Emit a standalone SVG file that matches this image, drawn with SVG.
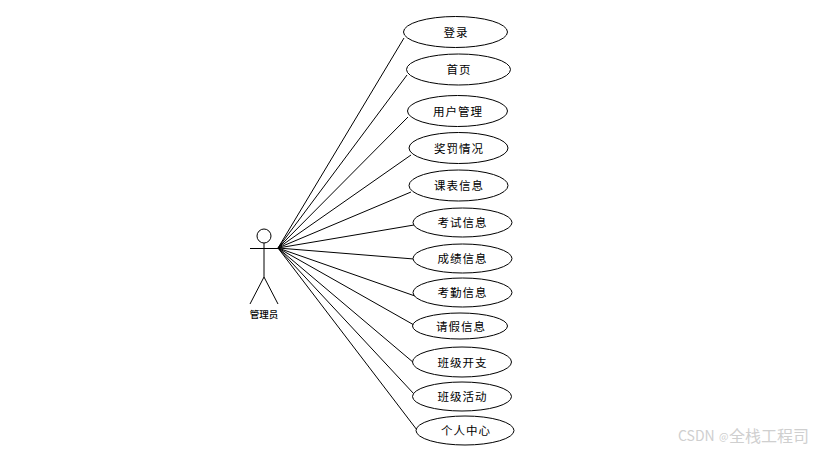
<svg xmlns="http://www.w3.org/2000/svg" width="822" height="452" viewBox="0 0 822 452">
<style>
.u{fill:#fff;stroke:#000;stroke-width:1}
.l{font:11.500px "Noto Sans CJK SC","Noto Sans",sans-serif;letter-spacing:1px;text-anchor:middle;fill:#000}
.c line{stroke:#000;stroke-width:1}
.a{fill:none;stroke:#000;stroke-width:1}
</style>
<rect width="822" height="452" fill="#fff"/>
<g id="connectors" class="c">
<line x1="278" y1="248" x2="404" y2="38"/>
<line x1="278" y1="248" x2="407" y2="75"/>
<line x1="278" y1="248" x2="408" y2="117"/>
<line x1="278" y1="248" x2="411" y2="155"/>
<line x1="278" y1="248" x2="411" y2="192"/>
<line x1="278" y1="248" x2="414" y2="225"/>
<line x1="278" y1="248" x2="414" y2="259"/>
<line x1="278" y1="248" x2="415" y2="296"/>
<line x1="278" y1="248" x2="414" y2="325"/>
<line x1="278" y1="248" x2="414" y2="363"/>
<line x1="278" y1="248" x2="414" y2="394"/>
<line x1="278" y1="248" x2="417" y2="430"/>
</g>
<g id="actor">
<circle class="a" cx="264" cy="236" r="7"/>
<line class="a" x1="264" y1="243" x2="264" y2="277"/>
<line class="a" x1="250" y1="248.500" x2="278" y2="248.500"/>
<line class="a" x1="264" y1="277" x2="250" y2="304"/>
<line class="a" x1="264" y1="277" x2="278" y2="304"/>
<text x="264" y="318" style="font:500 9.500px 'Noto Sans CJK SC',sans-serif;text-anchor:middle;fill:#000">管理员</text>
</g>
<g id="n1"><ellipse class="u" cx="455.500" cy="32" rx="52" ry="15.500"/><text class="l" x="456" y="36.500">登录</text></g>
<g id="n2"><ellipse class="u" cx="458.500" cy="69.500" rx="52" ry="15.500"/><text class="l" x="459" y="74">首页</text></g>
<g id="n3"><ellipse class="u" cx="457.500" cy="111" rx="50" ry="15.500"/><text class="l" x="458" y="115.500">用户管理</text></g>
<g id="n4"><ellipse class="u" cx="458.500" cy="148" rx="49.500" ry="15.500"/><text class="l" x="459" y="152.500">奖罚情况</text></g>
<g id="n5"><ellipse class="u" cx="458.500" cy="185.500" rx="49.500" ry="15.500"/><text class="l" x="459" y="190">课表信息</text></g>
<g id="n6"><ellipse class="u" cx="462.500" cy="222.500" rx="49.500" ry="14.500"/><text class="l" x="462.500" y="227">考试信息</text></g>
<g id="n7"><ellipse class="u" cx="462.500" cy="258.500" rx="49.500" ry="14.500"/><text class="l" x="462.500" y="263">成绩信息</text></g>
<g id="n8"><ellipse class="u" cx="462.500" cy="292.500" rx="49.500" ry="14.500"/><text class="l" x="462.500" y="297">考勤信息</text></g>
<g id="n9"><ellipse class="u" cx="460" cy="326" rx="47.500" ry="13"/><text class="l" x="461" y="330.500">请假信息</text></g>
<g id="n10"><ellipse class="u" cx="462" cy="362" rx="49.500" ry="15"/><text class="l" x="462.500" y="366.500">班级开支</text></g>
<g id="n11"><ellipse class="u" cx="462" cy="396.500" rx="49.500" ry="14.500"/><text class="l" x="462.500" y="401">班级活动</text></g>
<g id="n12"><ellipse class="u" cx="465" cy="430.500" rx="49" ry="14.500"/><text class="l" x="466" y="435">个人中心</text></g>
<text x="678" y="441" style="font:14px 'Noto Sans CJK SC',sans-serif;fill:#cfcfcf">CSDN<tspan x="719" font-size="10" y="440">@</tspan><tspan x="729" y="442" font-size="16">全栈工程司</tspan></text>
</svg>
